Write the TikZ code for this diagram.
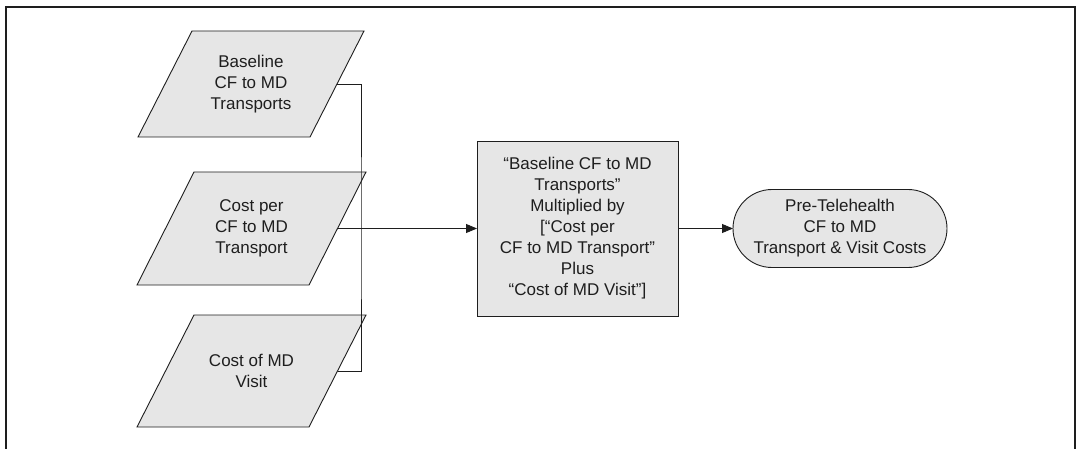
\documentclass[tikz,border=0pt]{standalone}
\usepackage{fontspec}
\setmainfont{Liberation Sans}
\usetikzlibrary{shapes.misc,arrows.meta}
\definecolor{boxfill}{RGB}{230,230,230}
\definecolor{ink}{RGB}{30,30,30}
\tikzset{
  lbl/.style={font=\fontsize{17}{21}\selectfont, text=ink, align=center},
  inshape/.style={draw=ink, fill=boxfill, line width=0.9pt, line join=miter},
  intext/.style={lbl, inner sep=0pt},
  procbox/.style={lbl, rectangle, draw=ink, fill=boxfill, line width=0.9pt,
    minimum width=201pt, minimum height=175pt, inner sep=0pt, outer sep=0pt},
  termbox/.style={lbl, rounded rectangle, draw=ink, fill=boxfill, line width=0.9pt,
    minimum width=214pt, minimum height=78pt, inner sep=0pt, outer sep=0pt},
  conn/.style={draw=ink, line width=0.9pt},
  arr/.style={conn, -{Triangle[length=11pt,width=9pt]}},
  frame/.style={draw=ink, line width=2.2pt}
}
\begin{document}
\begin{tikzpicture}[x=1pt,y=-1pt]
\useasboundingbox (0,0) rectangle (1079,449);
\draw[frame] (6,449) -- (6,7) -- (1075,7) -- (1075,449);

% input parallelograms
\draw[inshape] (138,137) -- (192,31) -- (364,31) -- (310,137) -- cycle;
\node[intext] (p1) at (251,84) {Baseline\\CF to MD\\Transports};
\coordinate (p1e) at (337,84);

\draw[inshape] (137,285) -- (194,172) -- (366,172) -- (309,285) -- cycle;
\node[intext] (p2) at (251.5,228.5) {Cost per\\CF to MD\\Transport};
\coordinate (p2e) at (337.5,228.5);

\draw[inshape] (137,427) -- (194,315) -- (366,315) -- (309,427) -- cycle;
\node[intext] (p3) at (251.5,371) {Cost of MD\\Visit};
\coordinate (p3e) at (337.5,371);

\node[procbox] (calc) at (577.5,228.5)
  {“Baseline CF to MD\\Transports”\\Multiplied by\\{[}“Cost per\\CF to MD Transport”\\Plus\\“Cost of MD Visit”{]}};

\node[termbox] (out) at (840,228.5)
  {Pre-Telehealth\\CF to MD\\Transport \& Visit Costs};

\coordinate (spine) at (361,228.5);
\draw[conn] (p1e) -| (spine) |- (p3e);
\draw[arr] (p2e) -- (calc.west);
\draw[arr] (calc.east) -- (out.west);
\end{tikzpicture}
\end{document}
